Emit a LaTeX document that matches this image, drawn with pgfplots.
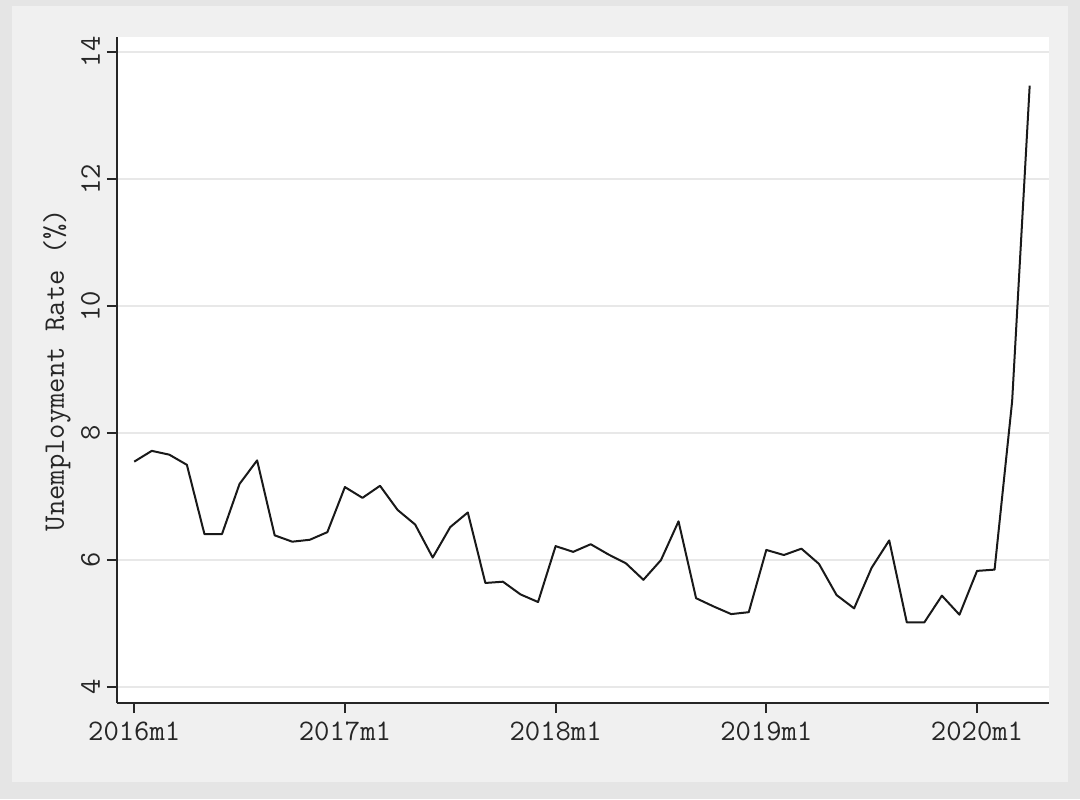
\documentclass[border=0pt]{standalone}
\usepackage{fontspec}
\usepackage{pgfplots}
\pgfplotsset{compat=1.18}
\definecolor{outerc}{RGB}{229,229,229}
\definecolor{innerc}{RGB}{240,240,240}
\definecolor{gridc}{RGB}{232,232,232}
\begin{document}
\begin{tikzpicture}[x=1pt,y=1pt]
\fill[outerc] (-58.5,-48) rectangle (481.5,351.5);
\fill[innerc] (-52.5,-39.5) rectangle (475.5,348.5);
\begin{axis}[
  at={(0,0)}, anchor=south west,
  scale only axis, width=466pt, height=333pt,
  xmin=-0.98, xmax=52.1, ymin=3.75, ymax=14.236,
  axis background/.style={fill=white},
  axis x line*=bottom, axis y line*=left,
  axis line style={-, line width=0.9pt, black!85},
  tick align=outside, major tick length=5pt,
  tick style={line width=0.9pt, black!85},
  xtick={0,12,24,36,48},
  xticklabels={2016m1,2017m1,2018m1,2019m1,2020m1},
  ytick={4,6,8,10,12,14},
  ymajorgrids, grid style={line width=0.9pt, gridc},
  /pgf/number format/assume math mode=true,
  tick label style={font=\ttfamily\fontsize{14.9}{17}\selectfont, black!85},
  yticklabel style={rotate=90, anchor=south, xshift=0pt},
  ylabel={Unemployment Rate (\%)},
  label style={font=\ttfamily\fontsize{14.9}{17}\selectfont, black!85},
  ylabel style={at={(axis description cs:-0.0644,0.5)}, anchor=center},
  xticklabel style={yshift=-1pt},
  clip=false,
]
\addplot[line width=1pt, black!90, line join=round] coordinates {
(0,7.55)(1,7.72)(2,7.66)(3,7.50)(4,6.41)(5,6.41)(6,7.20)(7,7.57)(8,6.39)(9,6.29)(10,6.32)(11,6.44)
(12,7.15)(13,6.98)(14,7.17)(15,6.79)(16,6.56)(17,6.04)(18,6.52)(19,6.75)(20,5.64)(21,5.66)(22,5.46)(23,5.34)
(24,6.22)(25,6.13)(26,6.25)(27,6.09)(28,5.95)(29,5.69)(30,6.00)(31,6.61)(32,5.40)(33,5.27)(34,5.15)(35,5.18)
(36,6.16)(37,6.08)(38,6.18)(39,5.94)(40,5.45)(41,5.24)(42,5.88)(43,6.31)(44,5.02)(45,5.02)(46,5.44)(47,5.14)
(48,5.83)(49,5.85)(50,8.50)(51,13.47)
};
\end{axis}
\pgfresetboundingbox
\useasboundingbox (-58.5,-48) rectangle (481.5,351.5);
\end{tikzpicture}
\end{document}
